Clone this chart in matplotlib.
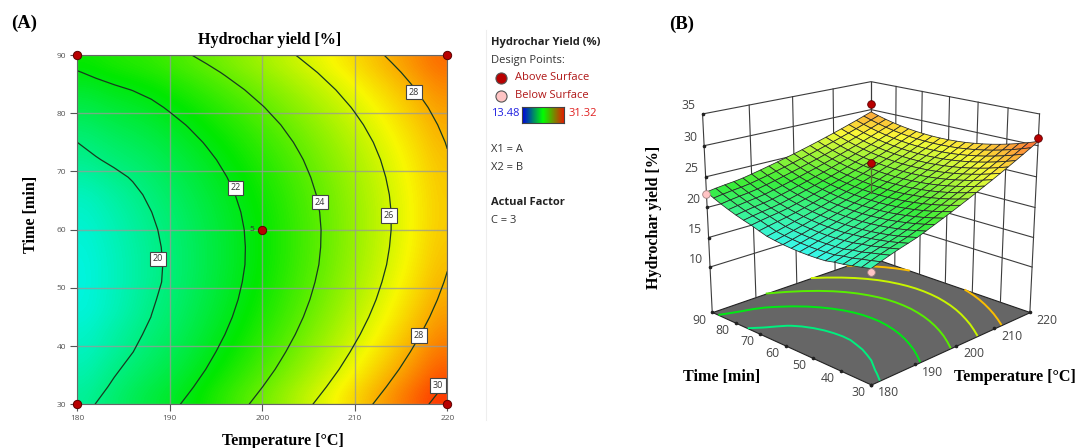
import matplotlib
matplotlib.use("Agg")
import matplotlib.pyplot as plt
import numpy as np
from matplotlib.colors import LinearSegmentedColormap, Normalize
from mpl_toolkits.mplot3d import proj3d
from mpl_toolkits.mplot3d.art3d import Poly3DCollection

W, H = 1077, 448
SERIF = "Liberation Serif"
SANS = "Open Sans"

# Yield: one row per time, one column per temperature
temperature = [180, 182, 184, 186, 188, 190, 192, 194, 196, 198, 200,
               202, 204, 206, 208, 210, 212, 214, 216, 218, 220]
time_min = [30, 33, 36, 39, 42, 45, 48, 51, 54, 57, 60,
            63, 66, 69, 72, 75, 78, 81, 84, 87, 90]
yield_grid = [
    [19.52, 20.02, 20.49, 20.92, 21.31, 21.71, 22.22, 22.75, 23.29, 23.84, 24.40, 24.97, 25.56, 26.16, 26.77, 27.39, 28.02, 28.67, 29.33, 30.00, 30.68],
    [19.21, 19.70, 20.16, 20.58, 20.96, 21.35, 21.85, 22.37, 22.90, 23.44, 23.99, 24.55, 25.13, 25.72, 26.32, 26.93, 27.55, 28.19, 28.84, 29.50, 30.17],
    [18.94, 19.42, 19.87, 20.28, 20.65, 21.03, 21.52, 22.03, 22.55, 23.08, 23.62, 24.17, 24.74, 25.32, 25.91, 26.51, 27.12, 27.75, 28.39, 29.04, 29.70],
    [18.68, 19.10, 19.54, 19.99, 20.40, 20.77, 21.25, 21.75, 22.26, 22.78, 23.31, 23.85, 24.41, 24.98, 25.56, 26.15, 26.75, 27.37, 28.00, 28.64, 29.29],
    [18.51, 18.92, 19.35, 19.79, 20.19, 20.55, 21.02, 21.51, 22.01, 22.52, 23.04, 23.57, 24.12, 24.68, 25.25, 25.83, 26.42, 27.03, 27.65, 28.28, 28.92],
    [18.24, 18.64, 19.06, 19.55, 20.01, 20.38, 20.84, 21.32, 21.81, 22.31, 22.82, 23.34, 23.88, 24.43, 24.99, 25.56, 26.14, 26.74, 27.35, 27.97, 28.60],
    [18.17, 18.56, 18.97, 19.44, 19.90, 20.26, 20.71, 21.18, 21.66, 22.15, 22.65, 23.16, 23.69, 24.23, 24.78, 25.34, 25.91, 26.50, 27.10, 27.71, 28.33],
    [18.15, 18.53, 18.93, 19.34, 19.76, 20.19, 20.63, 21.09, 21.56, 22.04, 22.53, 23.03, 23.55, 24.08, 24.62, 25.17, 25.73, 26.31, 26.90, 27.50, 28.11],
    [18.17, 18.54, 18.93, 19.33, 19.74, 20.16, 20.59, 21.04, 21.50, 21.97, 22.45, 22.94, 23.45, 23.97, 24.50, 25.04, 25.59, 26.16, 26.74, 27.33, 27.93],
    [18.25, 18.61, 18.99, 19.38, 19.78, 20.19, 20.61, 21.05, 21.50, 21.96, 22.43, 22.91, 23.41, 23.92, 24.44, 24.97, 25.51, 26.07, 26.64, 27.22, 27.81],
    [18.37, 18.72, 19.09, 19.47, 19.86, 20.26, 20.67, 21.10, 21.54, 21.99, 22.45, 22.92, 23.41, 23.91, 24.42, 24.94, 25.47, 26.02, 26.58, 27.15, 27.73],
    [18.54, 18.88, 19.24, 19.61, 19.99, 20.38, 20.78, 21.20, 21.63, 22.07, 22.52, 22.98, 23.46, 23.95, 24.45, 24.96, 25.48, 26.02, 26.57, 27.13, 27.70],
    [18.76, 19.09, 19.44, 19.80, 20.17, 20.55, 20.94, 21.35, 21.77, 22.20, 22.64, 23.09, 23.56, 24.04, 24.53, 25.03, 25.54, 26.07, 26.61, 27.16, 27.72],
    [19.18, 19.50, 19.79, 20.07, 20.40, 20.77, 21.15, 21.55, 21.96, 22.38, 22.81, 23.25, 23.71, 24.18, 24.66, 25.15, 25.65, 26.17, 26.70, 27.24, 27.79],
    [19.64, 19.93, 20.18, 20.40, 20.67, 21.03, 21.40, 21.79, 22.19, 22.60, 23.02, 23.45, 23.90, 24.36, 24.83, 25.31, 25.80, 26.31, 26.83, 27.36, 27.90],
    [20.00, 20.28, 20.52, 20.73, 20.99, 21.34, 21.70, 22.08, 22.47, 22.87, 23.28, 23.70, 24.14, 24.59, 25.05, 25.52, 26.00, 26.50, 27.01, 27.53, 28.06],
    [20.41, 20.68, 20.91, 21.11, 21.36, 21.70, 22.05, 22.42, 22.80, 23.19, 23.59, 24.00, 24.43, 24.87, 25.32, 25.78, 26.25, 26.74, 27.24, 27.75, 28.27],
    [20.87, 21.13, 21.35, 21.54, 21.78, 22.11, 22.45, 22.81, 23.18, 23.56, 23.95, 24.35, 24.77, 25.20, 25.64, 26.09, 26.55, 27.03, 27.52, 28.02, 28.53],
    [21.38, 21.63, 21.84, 22.02, 22.25, 22.57, 22.90, 23.25, 23.61, 23.98, 24.36, 24.75, 25.16, 25.58, 26.01, 26.45, 26.90, 27.37, 27.85, 28.34, 28.84],
    [21.94, 22.18, 22.38, 22.55, 22.77, 23.08, 23.40, 23.74, 24.09, 24.45, 24.82, 25.20, 25.60, 26.01, 26.43, 26.86, 27.30, 27.76, 28.23, 28.71, 29.20],
    [22.54, 22.77, 22.96, 23.12, 23.33, 23.63, 23.94, 24.27, 24.61, 24.96, 25.32, 25.69, 26.08, 26.48, 26.89, 27.31, 27.74, 28.19, 28.65, 29.12, 29.60],
]

contour_levels = [20, 22, 24, 26, 28, 30]
label_temp = [188.7, 197.1, 206.2, 213.7, 216.4, 216.9, 219.0]
label_time = [55, 67.2, 64.7, 62.4, 83.6, 41.8, 33.2]
label_text = ["20", "22", "24", "26", "28", "28", "30"]

# design points: temperature, time, yield, above surface?
design_temp = [180, 220, 180, 220, 200]
design_time = [90, 90, 30, 30, 60]
design_yield = [22.2, 31.0, 19.0, 31.3, 27.3]
design_above = [False, True, False, True, True]
design_surface = [22.54, 29.60, 19.52, 30.68, 22.45]

temp_ticks = [180, 190, 200, 210, 220]
time_ticks = [30, 40, 50, 60, 70, 80, 90]
yield_ticks = [10, 15, 20, 25, 30, 35]

X, Y = np.meshgrid(temperature, time_min)
Z = np.array(yield_grid)

response = LinearSegmentedColormap.from_list(
    "response", ["#0000ff", "#00f5e8", "#00e800", "#f8f800", "#ff1800"])
norm = Normalize(13.48, 31.32)


def fig_xy(x, y):
    return x / W, 1 - y / H


def tick_label(axis, x, y, z, text, dx, dy):
    # dx, dy are pixel offsets from the tick mark, y going down as in the picture
    xp, yp, _ = proj3d.proj_transform(x, y, z, axis.get_proj())
    axis.annotate(text, (xp, yp), xytext=(dx * 0.72, -dy * 0.72), textcoords="offset points",
                  fontsize=8.8, color="#444444", ha="center", va="center")


plt.rcParams["font.family"] = [SANS, "DejaVu Sans"]
fig = plt.figure(figsize=(W / 100, H / 100), dpi=100)

# (A) contour plot
ax = fig.add_axes([77.3 / W, 1 - 404.3 / H, 370 / W, 349.3 / H])
ax.imshow(Z, origin="lower", extent=[180, 220, 30, 90], aspect="auto",
          cmap=response, norm=norm, interpolation="bicubic")
ax.set_xticks(temp_ticks)
ax.set_yticks(time_ticks)
ax.grid(True, color="#999999", lw=1, alpha=0.75)
ax.tick_params(labelsize=6, colors="#555555", length=5, width=0.8, pad=3)
for spine in ax.spines.values():
    spine.set_color("#666666")
ax.contour(X, Y, Z, levels=contour_levels, colors="#173a20", linewidths=0.9)
for x, y, s in zip(label_temp, label_time, label_text):
    ax.text(x, y, s, fontsize=6.5, color="#333333", ha="center", va="center", zorder=6,
            bbox=dict(boxstyle="square,pad=0.3", fc="white", ec="#444444", lw=0.8))
# every design point shows as a dark red dot on the contour plot
for x, y in zip(design_temp, design_time):
    ax.plot(x, y, "o", ms=6, mfc="#b80000", mec="#5a0000", mew=0.7, clip_on=False, zorder=7)
ax.text(199.1, 60, "5", fontsize=6, color="#333333", ha="right", va="center", zorder=6)

fig.text(*fig_xy(11, 23), "(A)", family=SERIF, weight="bold", fontsize=13.5, va="center")
fig.text(*fig_xy(669, 24), "(B)", family=SERIF, weight="bold", fontsize=13.5, va="center")
fig.text(*fig_xy(270, 40), "Hydrochar yield [%]", family=SERIF, weight="bold",
         fontsize=11.6, ha="center", va="center")
fig.text(*fig_xy(31, 214), "Time [min]", family=SERIF, weight="bold", fontsize=11.6,
         rotation=90, ha="center", va="center")
fig.text(*fig_xy(283, 441), "Temperature [°C]", family=SERIF, weight="bold", fontsize=11.6,
         ha="center", va="center")

# legend block
fig.add_artist(plt.Line2D([485.5 / W] * 2, [1 - 30 / H, 1 - 420 / H], color="#eeeeee", lw=0.8))
fig.text(*fig_xy(491, 43), "Hydrochar Yield (%)", fontsize=8, weight="bold", va="center", color="#222222")
fig.text(*fig_xy(491, 61), "Design Points:", fontsize=8, va="center", color="#333333")
fig.text(*fig_xy(515, 78), "Above Surface", fontsize=8, va="center", color="#b01818")
fig.text(*fig_xy(515, 96), "Below Surface", fontsize=8, va="center", color="#b01818")
fig.text(*fig_xy(491, 114), "13.48", fontsize=8, va="center", color="#2020e0")
fig.text(*fig_xy(569, 114), "31.32", fontsize=8, va="center", color="#e02020")
fig.text(*fig_xy(491, 149), "X1 = A", fontsize=8, va="center", color="#333333")
fig.text(*fig_xy(491, 167), "X2 = B", fontsize=8, va="center", color="#333333")
fig.text(*fig_xy(491, 202), "Actual Factor", fontsize=8, weight="bold", va="center", color="#222222")
fig.text(*fig_xy(491, 220), "C = 3", fontsize=8, va="center", color="#333333")
fig.add_artist(plt.Line2D([501 / W], [1 - 78 / H], marker="o", ms=8, mfc="#b80000", mec="#555555", mew=0.8))
fig.add_artist(plt.Line2D([501 / W], [1 - 96 / H], marker="o", ms=8, mfc="#ffc4c4", mec="#555555", mew=0.8))
cax = fig.add_axes([522 / W, 1 - 123 / H, 42 / W, 16 / H])
bar_cmap = LinearSegmentedColormap.from_list("bar", ["#0000e0", "#00ff00", "#e02000"])
cax.imshow(np.linspace(0, 1, 64).reshape(1, -1), aspect="auto", cmap=bar_cmap)
cax.set_xticks([])
cax.set_yticks([])
for spine in cax.spines.values():
    spine.set_color("#444444")

# (B) response surface
Z_FLOOR, Z_TOP = 2.2, 35
ax3 = fig.add_axes([641 / W, 2 / H, 448 / W, 1], projection="3d", computed_zorder=False)
ax3.set_proj_type("persp", focal_length=0.45)
ax3.view_init(elev=18, azim=-135)
ax3.set_xlim(180, 220)
ax3.set_ylim(30, 90)
ax3.set_zlim(Z_FLOOR, Z_TOP)
ax3.set_box_aspect((1, 1, 0.9), zoom=0.84)
ax3.set_axis_off()
ax3.patch.set_alpha(0)

floor = [[(180, 30, Z_FLOOR), (220, 30, Z_FLOOR), (220, 90, Z_FLOOR), (180, 90, Z_FLOOR)]]
ax3.add_collection3d(Poly3DCollection(floor, facecolor="#666666", edgecolor="#222222", lw=0.8, zorder=1))

wall_kw = dict(color="#3c3c3c", lw=0.8, zorder=2)
for x in temp_ticks:
    ax3.plot([x, x], [90, 90], [Z_FLOOR, Z_TOP], **wall_kw)
for y in time_ticks:
    ax3.plot([220, 220], [y, y], [Z_FLOOR, Z_TOP], **wall_kw)
for z in yield_ticks:
    ax3.plot([180, 220, 220], [90, 90, 30], [z, z, z], **wall_kw)

ax3.contour(X, Y, Z, levels=contour_levels[:-1], zdir="z", offset=Z_FLOOR,
            cmap=response, norm=norm, linewidths=1.4, zorder=3)

face = response(norm(Z))
face[..., :3] = face[..., :3] * 0.78 + 0.22
ax3.plot_surface(X, Y, Z, facecolors=face, rstride=1, cstride=1, shade=False,
                 edgecolor="#262626", linewidth=0.55, zorder=5)

for x, y, z, s, up in zip(design_temp, design_time, design_yield, design_surface, design_above):
    if x == 200:
        ax3.plot([x, x], [y, y], [s, z], color="#556b2f", lw=0.9, zorder=6)
    ax3.plot([x], [y], [z], "o", ms=5.5, mfc="#b80000" if up else "#ffc4c4",
             mec="#5a0000" if up else "#a08080", mew=0.6, zorder=7)

# tick labels and tick dots along the box edges
fig.canvas.draw()
for z in yield_ticks:
    ax3.plot([180], [90], [z], "o", ms=1.6, color="#222222", zorder=3)
    tick_label(ax3, 180, 90, z, str(z), -14, -8)
for x in temp_ticks:
    ax3.plot([x], [30], [Z_FLOOR], "o", ms=1.6, color="#222222", zorder=4)
    tick_label(ax3, x, 30, Z_FLOOR, str(x), 17, 8)
for y in time_ticks:
    ax3.plot([180], [y], [Z_FLOOR], "o", ms=1.6, color="#222222", zorder=4)
    tick_label(ax3, 180, y, Z_FLOOR, str(y), -13, 8)

fig.text(*fig_xy(654, 217), "Hydrochar yield [%]", family=SERIF, weight="bold", fontsize=11.6,
         rotation=90, ha="center", va="center")
fig.text(*fig_xy(722, 377), "Time [min]", family=SERIF, weight="bold", fontsize=11.6, ha="center", va="center")
fig.text(*fig_xy(1015, 377), "Temperature [°C]", family=SERIF, weight="bold", fontsize=11.6, ha="center", va="center")

fig.savefig("out.png", dpi=100)
plt.close(fig)
